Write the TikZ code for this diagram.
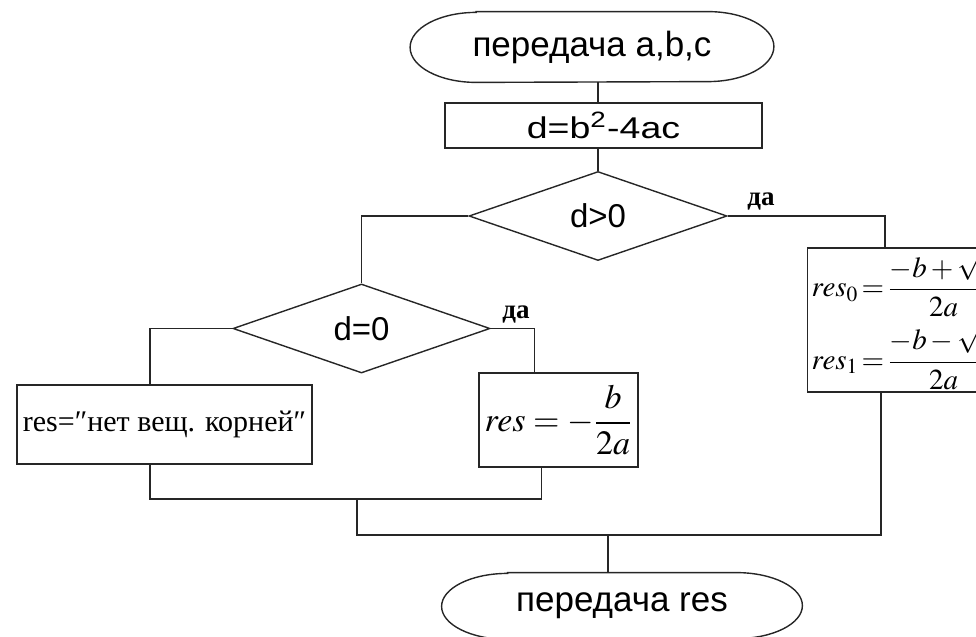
\documentclass[tikz,border=0pt]{standalone}
\usepackage{amsmath}
\usepackage{mathptmx}
\usepackage{fontspec}
\setmainfont{Liberation Serif}
\newfontfamily\sansf{Liberation Sans}
\usetikzlibrary{shapes.geometric, calc}

% outline of a start/stop block: node name, half height
\newcommand{\termframe}[2]{%
    \draw [line] ([xshift=33pt]#1.north west) -- ([xshift=-33pt]#1.north east)
        arc[start angle=90, end angle=-90, x radius=33pt, y radius=#2]
        -- ([xshift=33pt]#1.south west)
        arc[start angle=270, end angle=90, x radius=33pt, y radius=#2]
        -- cycle ;}

\tikzstyle{line} = [draw=black!85, line width=0.7pt]
\tikzstyle{term} = [rectangle, inner sep=0pt, font=\sansf\fontsize{17.5}{20}\selectfont]
\tikzstyle{proc} = [rectangle, draw=black!85, line width=0.7pt, inner sep=0pt]
\tikzstyle{decision} = [diamond, draw=black!85, line width=0.7pt, inner sep=0pt,
    minimum width=129pt, minimum height=44.5pt, font=\sansf\fontsize{16.5}{19}\selectfont]
\tikzstyle{yes} = [anchor=south, inner sep=1pt, yshift=1.5pt,
    font=\bfseries\fontsize{13.5}{15}\selectfont]

\begin{document}
\begin{tikzpicture}[x=0.5pt, y=-0.5pt]

        \useasboundingbox (0,0) rectangle (976,637) ;

        \node (start) [term, minimum width=181.5pt, minimum height=35pt]
            at (592,47) {передача a,b,c} ;
        \node (calc) [proc, below of=start, node distance=39.25pt, xshift=5.75pt,
            minimum width=158.5pt, minimum height=22.5pt,
            font=\sansf\fontsize{15}{18}\selectfont]
            {\scalebox{1.25}[1]{d=b\textsuperscript{2}-4ac}} ;

        \node (dgt) [decision] at (598,216) {d>0} ;
        \node (deq) [decision, minimum width=128.5pt] at (361.5,328.5) {d=0} ;

        % results
        \node (noroot) [proc, minimum width=147.5pt, minimum height=39.5pt,
            font=\fontsize{15}{18}\selectfont]
            at (164.5,424.5) {res=″нет вещ. корней″} ;
        \node (onert) [proc, minimum width=79.5pt, minimum height=47pt,
            font=\fontsize{17}{20}\selectfont]
            at (558.5,420) {$res=-\dfrac{b}{2a}$} ;
        \node (roots) [proc, anchor=west, minimum width=92pt, minimum height=72pt,
            inner xsep=2pt, align=left, font=\fontsize{14.5}{15}\selectfont]
            at (807,320)
            {$res_0\!=\!\dfrac{-b+\sqrt{d}}{2a}$\\[2pt]$res_1\!=\!\dfrac{-b-\sqrt{d}}{2a}$} ;

        \node (stop) [term, minimum width=180pt, minimum height=33pt]
            at (622,606) {передача res} ;

        \termframe{start}{17.5pt}
        \termframe{stop}{16.5pt}

        % bends
        \coordinate (rtop) at ($(roots.north west)+(78,0)$) ;
        \coordinate (rbot) at ($(roots.south west)+(74,0)$) ;
        \coordinate (j1) at (357,499) ;
        \coordinate (j2) at (608,535) ;

        % lines
        \draw [line] (start.south -| dgt.north) -- (calc.north -| dgt.north) ;
        \draw [line] (calc.south -| dgt.north) -- (dgt.north) ;

        \draw [line] (dgt.west) -| (deq.north) ;
        \draw [line] (dgt.east) -| node[yes, pos=0.106] {да} (rtop) ;

        \draw [line] (deq.west) -| ($(noroot.north)+(-14.5,0)$) ;
        \draw [line] (deq.east) -| node[yes, pos=0.29] {да}
            ($(onert.north west)+(56,0)$) ;

        \draw [line] ($(noroot.south)+(-14.5,0)$) |- (j1) ;
        \draw [line] (j1) -| ($(onert.south west)+(63,0)$) ;
        \draw [line] (j1) |- (j2) -| (rbot) ;
        \draw [line] (j2) -- (j2 |- stop.north) ;

\end{tikzpicture}
\end{document}
